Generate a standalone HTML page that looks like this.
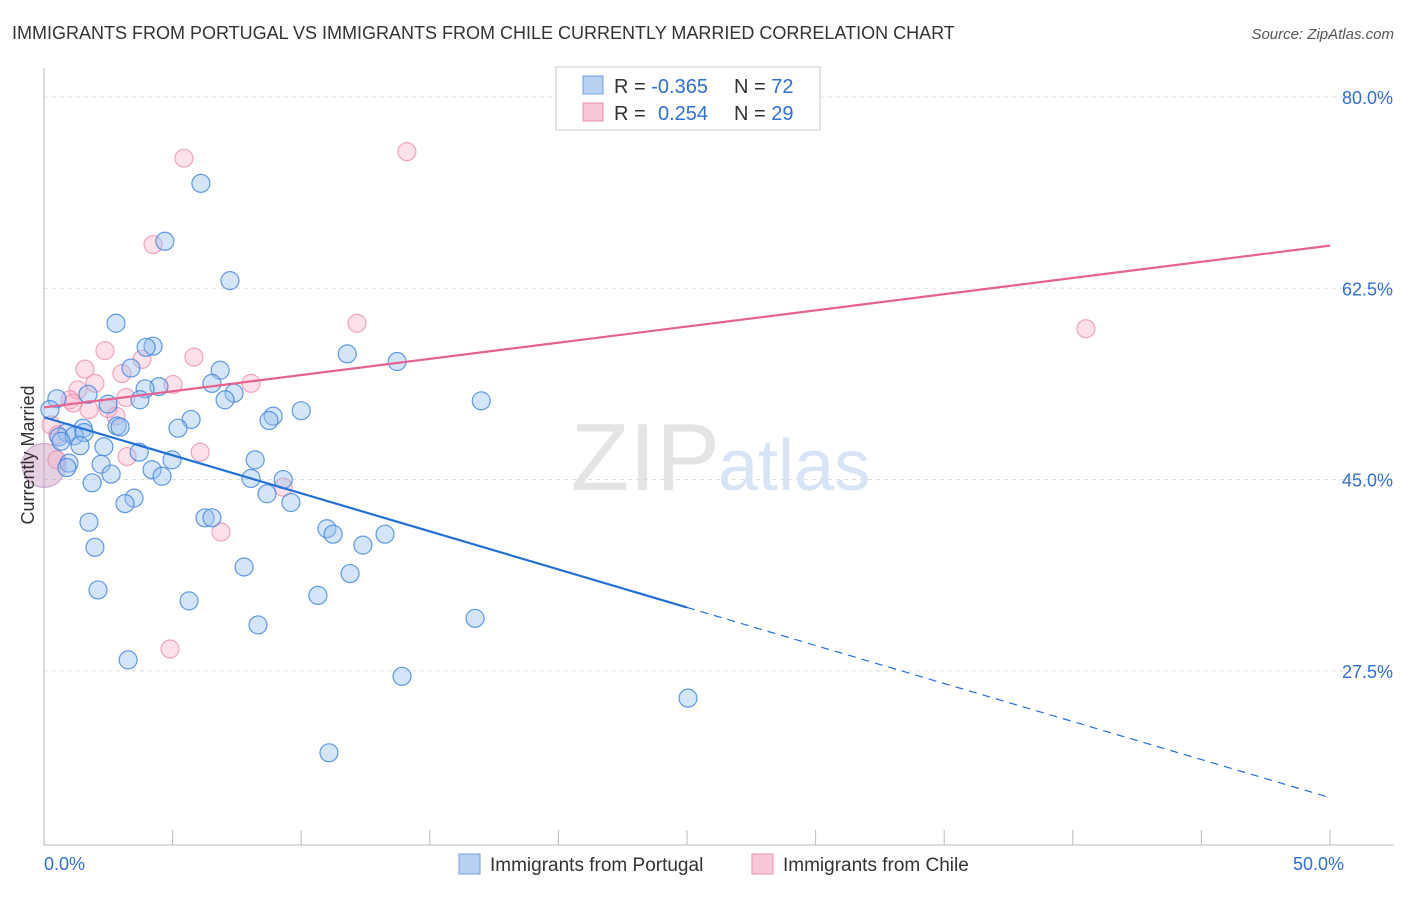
<!DOCTYPE html>
<html><head><meta charset="utf-8"><style>
body{margin:0;background:#fff;font-family:"Liberation Sans",sans-serif}
svg text{font-family:"Liberation Sans",sans-serif}
</style></head><body>
<svg id="c" width="1406" height="892" xmlns="http://www.w3.org/2000/svg">
<text x="12" y="39" font-size="18" fill="#333">IMMIGRANTS FROM PORTUGAL VS IMMIGRANTS FROM CHILE CURRENTLY MARRIED CORRELATION CHART</text>
<text x="1394" y="39" font-size="15" fill="#555" font-style="italic" text-anchor="end">Source: ZipAtlas.com</text>
<text x="720" y="490" font-size="96" fill="#e4e4e4" text-anchor="end" font-family="Liberation Serif">ZIP</text>
<text x="718" y="490" font-size="72" fill="#d6e4f5">atlas</text>
<g id="grid"></g><g id="axes"></g><g id="pts"></g><g id="lines"></g>
<text transform="translate(34,455) rotate(-90)" font-size="18" fill="#333" text-anchor="middle">Currently Married</text>
<g>
<rect x="556" y="67" width="264" height="63" fill="#fff" stroke="#ccc"/>
<rect x="583" y="76" width="20" height="18" fill="#b8d1f2" stroke="#6f9fe0"/>
<rect x="583" y="103" width="20" height="18" fill="#f9c8d8" stroke="#e891ae"/>
<text x="614" y="93" font-size="20" fill="#333">R = <tspan fill="#2f6fd6">-0.365</tspan><tspan x="734">N = </tspan><tspan fill="#2f6fd6">72</tspan></text>
<text x="614" y="120" font-size="20" fill="#333">R = <tspan x="658" fill="#2f6fd6">0.254</tspan><tspan x="734">N = </tspan><tspan fill="#2f6fd6">29</tspan></text>
</g>
<g>
<rect x="459" y="854" width="21" height="20" fill="#b8d1f2" stroke="#6f9fe0"/>
<text x="490" y="871" font-size="19" fill="#333">Immigrants from Portugal</text>
<rect x="752" y="854" width="21" height="20" fill="#f9c8d8" stroke="#e891ae"/>
<text x="783" y="871" font-size="19" fill="#333">Immigrants from Chile</text>
</g>
</svg>
<script>
const yTicks=[80,62.5,45,27.5];
const yTickLabels=["80.0%","62.5%","45.0%","27.5%"];
const xTickLabels=["0.0%","50.0%"];
const blueX=[6.1,4.7,7.23,2.8,4.24,3.97,11.79,13.73,3.38,6.85,6.53,4.47,3.93,7.39,7.04,3.73,17.0,0.5,1.71,2.49,10.0,8.91,8.75,5.72,5.21,2.84,2.96,0.23,1.52,0.89,0.58,1.17,1.56,1.4,2.33,3.7,0.66,8.21,4.98,2.22,0.97,0.89,4.2,4.59,2.61,8.05,9.3,1.87,8.67,9.6,3.5,3.15,1.75,6.26,6.53,11.0,11.24,13.26,12.4,1.98,7.78,11.9,2.1,10.65,5.64,16.76,8.32,3.27,13.92,25.04,11.08];
const blueY=[72.1,66.8,63.2,59.3,57.2,57.1,56.5,55.8,55.2,55.0,53.8,53.5,53.3,52.9,52.3,52.3,52.2,52.4,52.8,51.9,51.3,50.8,50.4,50.5,49.7,49.9,49.8,51.4,49.7,49.3,48.9,49.0,49.3,48.1,48.0,47.5,48.5,46.8,46.8,46.4,46.5,46.1,45.9,45.3,45.5,45.1,45.0,44.7,43.7,42.9,43.3,42.8,41.1,41.5,41.5,40.5,40.0,40.0,39.0,38.8,37.0,36.4,34.9,34.4,33.9,32.3,31.7,28.5,27.0,25.0,20.0];
const pinkX=[5.44,14.11,4.24,12.17,40.51,2.37,5.83,3.81,1.59,3.03,1.98,5.02,8.05,1.32,1.01,1.75,2.49,2.8,3.19,1.13,0.27,0.54,6.07,3.23,9.3,6.88,4.9,0.5];
const pinkY=[74.4,75.0,66.5,59.3,58.8,56.8,56.2,56.0,55.1,54.7,53.8,53.7,53.8,53.2,52.3,51.4,51.5,50.8,52.5,52.0,50.0,49.1,47.5,47.1,44.3,40.2,29.5,46.8];
const bigPoint=[0,46.3];
const blueFit=[50.7,15.9]; // y at x=0 and x=50
const pinkFit=[51.6,66.4];
const blueSolidEnd=25;
const X=v=>44+v*25.72, Y=v=>97+(80-v)*10.93;
const NS="http://www.w3.org/2000/svg";
function mk(tag,attrs,parent){const e=document.createElementNS(NS,tag);for(const k in attrs)e.setAttribute(k,attrs[k]);document.getElementById(parent).appendChild(e);return e;}
yTicks.forEach((t,i)=>{
 const g=mk('line',{x1:44,x2:1394,y1:Y(t),y2:Y(t),stroke:'#ddd','stroke-dasharray':'4,4'},'grid');
 
 
 const l=mk('text',{x:1393,y:Y(t)+7,'font-size':18,fill:'#2f6fd6','text-anchor':'end'},'grid');
 l.textContent=yTickLabels[i];
 
 
});
const ax=mk('line',{x1:44,x2:44,y1:68,y2:845,stroke:'#bbb'},'axes');


const bx=mk('line',{x1:44,x2:1394,y1:845,y2:845,stroke:'#bbb'},'axes');


for(let i=0;i<=10;i++){
 const t=mk('line',{x1:X(i*5),x2:X(i*5),y1:830,y2:845,stroke:'#bbb'},'axes');
 
 
}
[[0,'start'],[50,'end']].forEach((p,i)=>{
 const t=mk('text',{x:X(p[0])+(i?14:0),y:870,'font-size':18,fill:'#2f6fd6','text-anchor':p[1]},'axes');
 t.textContent=xTickLabels[i];
 
 
});
function dot(x,y,r,fill,stroke,name){
 const c=mk('circle',{cx:X(x),cy:Y(y),r:r,fill:fill,stroke:stroke,'stroke-width':1.2},'pts');
 
 
}
dot(bigPoint[0],bigPoint[1],22,'rgba(200,150,190,0.45)','rgba(180,140,190,0.6)','big-overlap-point');
pinkX.forEach((x,i)=>dot(x,pinkY[i],9,'rgba(245,170,195,0.35)','rgba(232,140,170,0.75)','chile-point'));
blueX.forEach((x,i)=>dot(x,blueY[i],9,'rgba(150,190,240,0.4)','rgba(60,130,220,0.8)','portugal-point'));
const by=x=>blueFit[0]+(blueFit[1]-blueFit[0])*x/50;
const l1=mk('line',{x1:X(0),y1:Y(by(0)),x2:X(blueSolidEnd),y2:Y(by(blueSolidEnd)),stroke:'#2370d8','stroke-width':2.2},'lines');


const l2=mk('line',{x1:X(blueSolidEnd),y1:Y(by(blueSolidEnd)),x2:X(50),y2:Y(by(50)),stroke:'#2370d8','stroke-width':1.2,'stroke-dasharray':'8,6'},'lines');


const l3=mk('line',{x1:X(0),y1:Y(pinkFit[0]),x2:X(50),y2:Y(pinkFit[1]),stroke:'#e56390','stroke-width':2.2},'lines');


</script>
</body></html>
